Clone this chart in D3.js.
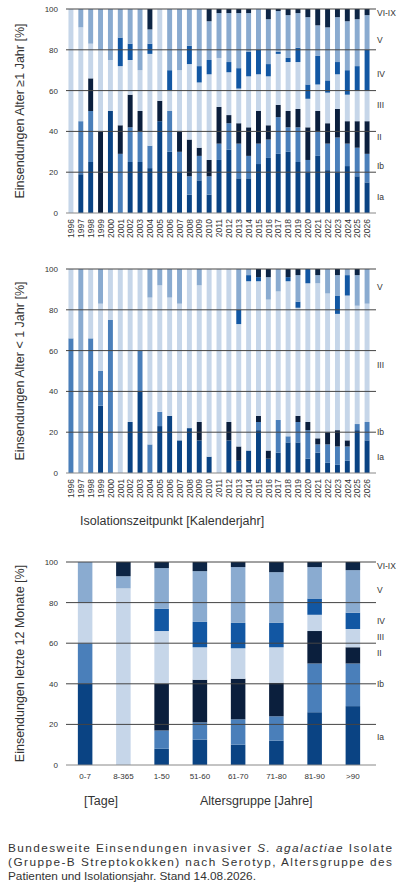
<!DOCTYPE html>
<html lang="de">
<head>
<meta charset="UTF-8">
<title>GBS Serotypen</title>
<style>
  body { margin: 0; background: #fff; font-family: "Liberation Sans", Arial, sans-serif; }
  svg text { fill: #333; }
  .caption { font-size: 11.8px; fill: #222; }
</style>
<script src="https://d3js.org/d3.v7.min.js"></script>
</head>
<body>
<svg id="chart" width="400" height="895"></svg>
<script>
const serotypes = ["Ia", "Ib", "II", "III", "IV", "V", "VI-IX"];
const colors = ["#0a4383", "#4a7fba", "#0b1f3d", "#c6d6e9", "#1257a3", "#8aabd0", "#0d2545"];
const years = d3.range(1996, 2027).map(String);
const yTicks = [0, 20, 40, 60, 80, 100];

// Alter >= 1 Jahr, Anteile je Serotyp (Ia, Ib, II, III, IV, V, VI-IX)
const adults = [
  [0,0,0,100,0,0,0], [19,26,0,46,0,9,0], [25,25,16,17,0,17,0], [0,0,40,40,0,20,0],
  [50,0,0,25,0,25,0], [0,29,14,29,14,14,0], [25,17,16,17,8,17,0], [25,15,10,20,0,30,0],
  [22,11,0,45,5,7,10], [45,0,10,45,0,0,0], [30,20,0,10,10,30,0], [20,10,10,30,0,30,0],
  [9,9,18,37,9,18,0], [16,12,4,32,8,28,0], [9,9,8,42,7,19,6], [26,8,18,24,0,22,2],
  [31,13,4,21,5,24,2], [17,17,10,17,10,27,2], [17,11,14,25,12,19,2], [24,10,16,18,12,20,0],
  [27,9,7,24,6,22,5], [29,18,6,25,1,20,1], [30,12,8,24,2,21,3], [25,17,9,23,7,17,2],
  [20,6,16,14,7,33,4], [28,12,10,13,14,15,8], [21,13,10,15,6,26,9], [20,17,14,17,6,22,4],
  [23,11,11,13,12,24,6], [18,14,13,15,12,23,5], [15,14,16,15,20,17,3]
];

// Alter < 1 Jahr
const infants = [
  [0,66,0,34,0,0,0], [0,0,0,0,0,100,0], [0,66,0,34,0,0,0], [33,17,0,33,0,17,0],
  [0,75,0,25,0,0,0], [0,0,0,100,0,0,0], [25,0,0,75,0,0,0], [40,20,0,40,0,0,0],
  [0,14,0,72,0,14,0], [23,7,0,62,0,8,0], [28,0,0,58,0,14,0], [16,0,0,67,0,17,0],
  [22,0,0,78,0,0,0], [16,0,9,67,0,8,0], [8,0,0,92,0,0,0], [0,0,0,100,0,0,0],
  [16,0,9,75,0,0,0], [6,0,7,60,7,20,0], [11,0,0,83,3,3,0], [21,4,3,66,2,0,4],
  [7,0,4,74,0,11,4], [10,16,0,63,0,11,0], [15,3,0,76,2,0,4], [15,10,3,53,3,13,3],
  [7,14,4,68,7,0,0], [10,4,3,76,0,4,3], [5,9,6,68,0,12,0], [4,9,8,57,9,10,3],
  [6,7,3,71,10,3,0], [21,3,0,58,0,15,3], [16,9,0,58,0,17,0]
];

// letzte 12 Monate nach Altersgruppe
const ageGroups = ["0-7", "8-365", "1-50", "51-60", "61-70", "71-80", "81-90", ">90"];
const lastYear = [
  [40,20,0,20,0,20,0], [0,0,0,87,0,6,7], [8,9,23,26,11,20,3], [12.5,8.5,21,16,12.5,25,4.5],
  [10,12.5,20,15,12.5,27.5,2.5], [12,12,16.5,17.5,12,25,5], [26,24,16,8,8,15.5,2.5], [29,21,8,9,8,21,4]
];

// Legend label positions (value at which label sits) per panel
const legendTop = [["VI-IX", 98], ["V", 85], ["IV", 68], ["III", 53], ["II", 37], ["Ib", 23], ["Ia", 8]];
const legendMid = [["V", 91], ["III", 53], ["Ib", 20], ["Ia", 8]];
const legendBot = [["VI-IX", 98], ["V", 86], ["IV", 71], ["III", 63], ["II", 55], ["Ib", 40], ["Ia", 14]];

const svg = d3.select("#chart");
const left = 66, right = 372;

function panel(opt) {
  const g = svg.append("g");
  const x = d3.scaleBand().domain(opt.cats).range([left, right]).paddingInner(opt.pad).paddingOuter(opt.pad / 2);
  const y = d3.scaleLinear().domain([0, 100]).range([opt.y1, opt.y0]);
  const rows = opt.data.map((r, i) => {
    const o = { cat: opt.cats[i] };
    serotypes.forEach((s, j) => o[s] = r[j]);
    return o;
  });
  const series = d3.stack().keys(serotypes)(rows);

  g.selectAll("g.s").data(series).join("g")
    .attr("fill", (d, i) => colors[i])
    .selectAll("rect").data(d => d).join("rect")
    .attr("x", d => x(d.data.cat))
    .attr("width", x.bandwidth())
    .attr("y", d => y(d[1]))
    .attr("height", d => y(d[0]) - y(d[1]));

  // gridlines
  g.selectAll("line.grid").data(yTicks).join("line")
    .attr("x1", left).attr("x2", right + 4)
    .attr("y1", d => y(d)).attr("y2", d => y(d))
    .attr("stroke", d => d === 0 ? "#888" : "#444").attr("stroke-width", 1);

  const ya = g.append("g").attr("transform", `translate(${left},0)`)
    .call(d3.axisLeft(y).tickValues(yTicks).tickSize(0).tickPadding(8));
  ya.select(".domain").remove();
  ya.selectAll("text").attr("font-size", 8).attr("fill", "#333");

  const xa = g.append("g").attr("transform", `translate(0,${opt.y1})`)
    .call(d3.axisBottom(x).tickSize(0).tickPadding(opt.rot ? 4 : 8));
  xa.select(".domain").remove();
  if (opt.rot) {
    xa.selectAll("text").attr("font-size", 8.5).attr("transform", "rotate(-90)")
      .attr("text-anchor", "end").attr("dx", "-4")
      .attr("x", -2).attr("y", 0.5).attr("dy", "0.32em");
  } else {
    xa.selectAll("text").attr("font-size", 8);
  }

  g.append("text")
    .attr("transform", `translate(${opt.titleX},${(opt.y0 + opt.y1) / 2}) rotate(-90)`)
    .attr("text-anchor", "middle").attr("font-size", 12.5).text(opt.title);

  g.selectAll("text.leg").data(opt.legend).join("text")
    .attr("x", right + 5).attr("y", d => y(d[1]))
    .attr("dy", "0.35em").attr("font-size", 8.5).text(d => d[0]);
}

panel({ cats: years, data: adults, y0: 9, y1: 213, pad: 0.5, rot: true,
  title: "Einsendungen Alter \u22651 Jahr [%]", titleX: 24, legend: legendTop });
panel({ cats: years, data: infants, y0: 269, y1: 473, pad: 0.5, rot: true,
  title: "Einsendungen Alter < 1 Jahr [%]", titleX: 24, legend: legendMid });
panel({ cats: ageGroups, data: lastYear, y0: 562, y1: 765, pad: 0.62, rot: false,
  title: "Einsendungen  letzte 12 Monate [%]", titleX: 24, legend: legendBot });

svg.append("text").attr("x", 80).attr("y", 525).attr("font-size", 12.5)
  .text("Isolationszeitpunkt [Kalenderjahr]");
svg.append("text").attr("x", 84).attr("y", 805).attr("font-size", 12.5).text("[Tage]");
svg.append("text").attr("x", 200).attr("y", 805).attr("font-size", 12.5).text("Altersgruppe [Jahre]");

const cap = svg.append("g").attr("class", "caption");
const t1 = cap.append("text").attr("x", 8).attr("y", 852).attr("textLength", 384).attr("lengthAdjust", "spacing");
t1.append("tspan").text("Bundesweite Einsendungen invasiver ");
t1.append("tspan").attr("font-style", "italic").text("S. agalactiae");
t1.append("tspan").text(" Isolate");
cap.append("text").attr("x", 8).attr("y", 866).attr("textLength", 384).attr("lengthAdjust", "spacing")
  .text("(Gruppe-B Streptokokken) nach Serotyp, Altersgruppe des");
cap.append("text").attr("x", 8).attr("y", 880).text("Patienten und Isolationsjahr. Stand 14.08.2026.");
</script>
</body>
</html>
